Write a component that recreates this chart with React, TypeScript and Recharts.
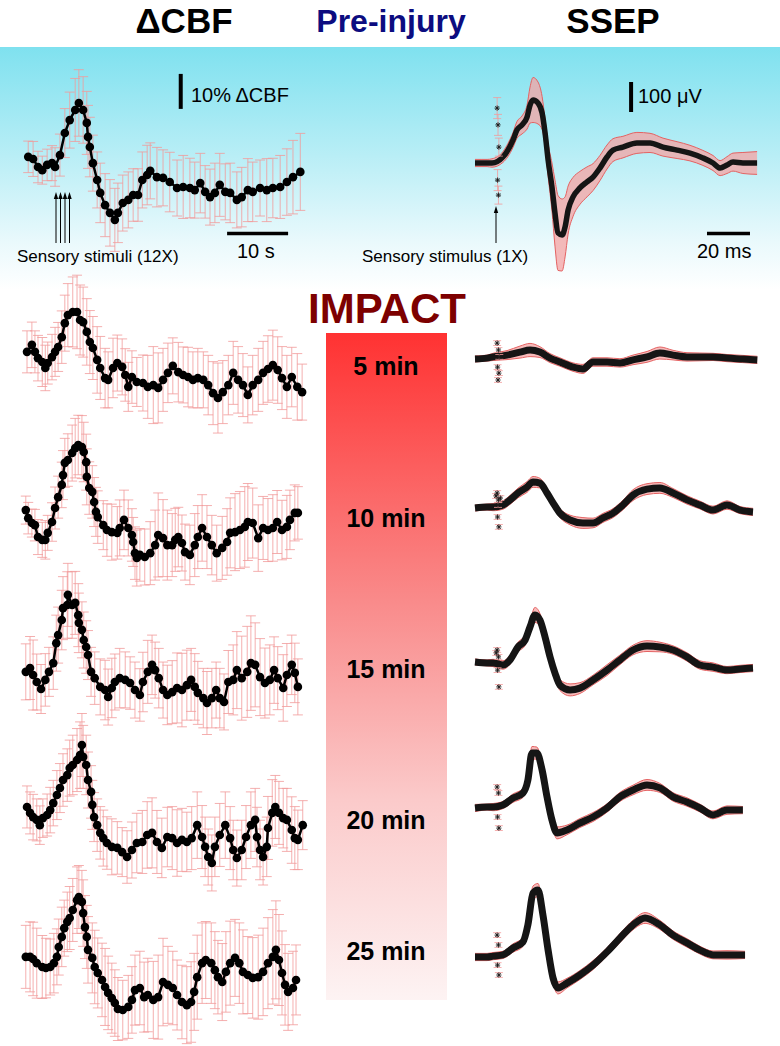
import React from 'react';
import { ScatterChart, ComposedChart, Scatter, Line, Area, XAxis, YAxis, ErrorBar, ReferenceLine } from 'recharts';

// [time (s), ΔCBF (%), s.e. (%)]
type Pt = [number, number, number];

const cbfPre: Pt[] = [
  [0.2, 0.9, 4.5], [1.0, 0.3, 5], [1.8, -2.0, 4.5], [2.5, -2.9, 4], [3.3, -1.4, 4.5], [4.1, -0.9, 5], [4.6, -2.0, 5.5], [5.4, 1.4, 6],
  [6.2, 7.7, 7], [7.0, 11.4, 8], [7.9, 14.3, 9], [8.5, 16.3, 9.5], [9.2, 14.3, 9.5], [9.8, 10.6, 9], [10.0, 6.6, 9], [10.3, 3.7, 8.5],
  [10.8, -0.9, 8], [11.5, -5.7, 8], [12.0, -9.4, 8.5], [12.8, -12.9, 9], [13.6, -15.1, 9.5], [14.4, -17.1, 9], [14.9, -15.1, 8.5],
  [15.7, -12.3, 8], [16.6, -11.4, 8], [17.4, -10.0, 7.5], [18.2, -10.0, 7.5], [18.9, -5.7, 8], [19.7, -4.3, 8.5], [20.2, -3.1, 8],
  [21.3, -4.9, 8.5], [22.3, -5.1, 8], [23.4, -6.3, 8.5], [24.6, -8.0, 8], [25.6, -7.7, 9], [26.7, -8.0, 8.5], [27.5, -8.6, 8],
  [28.4, -6.6, 8.5], [29.2, -9.1, 7.5], [30.0, -10.6, 8], [30.8, -9.4, 8.5], [31.6, -7.1, 9], [32.5, -9.1, 8], [33.3, -9.4, 8.5],
  [34.4, -11.4, 8], [35.2, -10.6, 8.5], [36.2, -8.6, 9], [37.0, -9.1, 8.5], [38.2, -8.0, 8], [39.3, -8.6, 9], [40.3, -8.0, 8.5],
  [41.5, -7.7, 9], [42.6, -6.3, 9.5], [43.6, -4.9, 10.5], [44.8, -3.4, 11],
];

const cbf5: Pt[] = [
  [0, 0.9, 6], [0.8, 2.9, 6.5], [1.3, 0.9, 6], [1.8, -0.9, 6.5], [2.5, -2.0, 7], [3.0, -3.7, 6.5], [3.4, -2.3, 6], [4.1, -0.6, 6.5],
  [4.6, 0.9, 7], [5.1, 2.3, 7], [5.7, 5.1, 7.5], [6.2, 9.1, 8], [6.7, 11.4, 9], [7.5, 12.3, 10], [8.2, 12.3, 10.5], [8.7, 10.0, 10],
  [9.2, 9.4, 10], [9.8, 6.6, 9.5], [10.3, 3.7, 9], [10.8, 2.0, 9], [11.5, -1.4, 9.5], [12.0, -3.7, 9], [12.8, -6.6, 8.5], [13.3, -7.1, 8],
  [14.1, -3.7, 8.5], [14.8, -2.3, 8], [15.6, -3.4, 8], [16.1, -5.7, 7.5], [16.6, -9.1, 7], [17.2, -6.3, 7.5], [18.0, -7.7, 7],
  [19.0, -8.0, 8], [19.8, -9.1, 9], [20.7, -8.6, 11], [21.5, -9.4, 10], [22.3, -7.1, 9], [23.1, -5.1, 8.5], [23.9, -3.1, 8],
  [24.8, -4.9, 8.5], [25.6, -5.7, 8], [26.4, -6.3, 8.5], [27.2, -7.1, 8], [28.0, -6.6, 8.5], [28.9, -7.1, 8], [29.7, -8.6, 8.5],
  [30.5, -10.9, 9], [31.3, -12.3, 10], [32.1, -10.6, 9], [33.0, -8.6, 8.5], [33.8, -5.1, 9], [34.6, -7.1, 9.5], [35.4, -8.6, 9],
  [36.2, -11.4, 8], [37.0, -8.6, 8.5], [37.9, -7.1, 9], [38.7, -5.1, 9], [39.5, -4.0, 9.5], [40.3, -2.9, 10], [41.1, -4.3, 9.5],
  [41.8, -6.6, 9], [42.6, -9.1, 9], [43.4, -6.3, 8.5], [44.3, -9.1, 9.5], [45.1, -10.6, 8],
];

const cbf10: Pt[] = [
  [-0.2, 1.4, 4], [0.2, -0.9, 4.5], [0.8, -2.3, 4], [1.3, -2.9, 4.5], [1.8, -6.3, 5], [2.5, -7.1, 5], [3.0, -7.1, 5.5], [3.4, -5.1, 5],
  [4.1, -2.0, 5.5], [4.6, 2.0, 6], [5.1, 5.1, 6], [5.7, 8.6, 6.5], [5.9, 11.4, 7], [6.2, 14.9, 7], [6.7, 15.7, 7.5], [7.4, 17.7, 8],
  [7.9, 19.1, 8.5], [8.4, 20.0, 8.5], [9.0, 19.4, 9], [9.3, 18.0, 8.5], [9.7, 15.1, 8], [9.8, 10.9, 8], [10.2, 7.7, 7.5], [10.7, 6.6, 7.5],
  [11.0, 3.7, 7], [11.3, 0.9, 7], [11.6, -0.6, 7.5], [12.5, -2.9, 7], [13.1, -4.3, 7.5], [13.9, -4.9, 8], [14.8, -5.1, 7.5],
  [15.2, -3.7, 8], [15.9, -1.4, 8.5], [16.6, -3.7, 8], [17.2, -5.7, 7.5], [17.4, -7.7, 7], [17.7, -10.9, 7.5], [18.0, -12.3, 8],
  [18.5, -11.4, 7.5], [19.3, -12.0, 8], [20.2, -10.9, 9], [21.0, -8.6, 10], [21.5, -5.7, 12], [22.3, -6.6, 11], [23.0, -8.6, 10],
  [23.8, -8.6, 9], [24.3, -7.1, 9], [24.8, -6.3, 8.5], [25.4, -8.0, 8], [25.9, -10.6, 8], [26.7, -11.4, 8.5], [27.5, -8.6, 9],
  [28.0, -6.3, 9], [28.7, -3.7, 9.5], [29.5, -6.3, 9], [30.3, -8.6, 8.5], [31.1, -10.9, 8], [32.0, -9.4, 9], [32.8, -7.7, 9.5],
  [33.3, -5.1, 10], [34.1, -4.9, 11], [34.9, -4.3, 11], [35.7, -3.4, 11.5], [36.2, -2.0, 11], [37.0, -2.3, 10], [37.9, -6.6, 9.5],
  [38.7, -3.7, 9], [39.5, -4.3, 9], [40.3, -3.7, 9.5], [41.0, -2.0, 9], [41.8, -4.3, 8.5], [42.6, -3.4, 9], [43.1, -1.4, 8.5],
  [43.9, 0.6, 8], [44.4, 0.6, 7.5],
];

const cbf15: Pt[] = [
  [-0.2, 0.9, 8], [0.5, 2.0, 9], [1.0, 0, 10], [1.6, -2.0, 8], [2.3, -4.0, 7], [3.0, -1.4, 7.5], [3.6, 0.9, 7], [4.3, 3.4, 7.5],
  [4.8, 9.1, 8], [5.1, 11.4, 8], [5.7, 15.7, 8.5], [5.9, 19.1, 9], [6.6, 20.0, 9.5], [6.7, 22.9, 9], [7.4, 20.0, 9.5], [7.9, 20.6, 9],
  [8.4, 17.1, 9], [8.5, 14.9, 8.5], [9.0, 12.9, 8], [9.3, 10.0, 8], [9.7, 8.0, 7.5], [10.0, 5.7, 7], [10.5, 0.9, 7], [11.1, -0.9, 7.5],
  [12.0, -3.4, 8], [12.8, -4.3, 8.5], [13.3, -6.3, 8], [13.9, -3.7, 8.5], [14.4, -2.0, 8], [15.2, -0.9, 8.5], [16.1, -1.4, 8],
  [16.9, -2.3, 7.5], [17.7, -4.3, 8], [18.5, -5.7, 7.5], [19.0, -2.0, 8.5], [19.8, 0.9, 9], [20.5, 2.9, 8.5], [21.0, 1.4, 8],
  [21.6, -0.9, 8.5], [22.3, -4.3, 8], [23.0, -5.7, 8.5], [23.8, -4.9, 9], [24.6, -3.7, 10], [25.4, -4.3, 10.5], [26.2, -2.9, 10],
  [26.9, -1.4, 9], [27.5, -3.4, 9.5], [28.0, -5.1, 9], [28.9, -6.6, 8.5], [29.5, -8.0, 9], [30.3, -6.6, 8.5], [31.0, -4.3, 8],
  [31.6, -6.6, 8.5], [32.3, -7.7, 8], [33.0, -2.0, 9], [33.8, -1.4, 10], [34.4, 1.4, 11], [35.2, -0.9, 12], [36.1, 0.9, 13],
  [36.7, 3.4, 13.5], [37.4, 2.9, 12], [38.2, -0.6, 11], [39.0, -2.3, 10], [39.8, -1.4, 10], [40.5, 1.4, 9.5], [41.1, -0.9, 9],
  [42.0, -3.7, 9.5], [42.6, 0, 9], [43.4, 2.9, 8.5], [43.9, 0.6, 8.5], [44.4, -3.4, 8],
];

const cbf20: Pt[] = [
  [0, 2.3, 6], [0.5, 0.6, 6], [1.0, -0.6, 6.5], [1.6, -1.4, 6], [2.1, -2.9, 5.5], [2.6, -0.9, 5.5], [3.3, 0, 6], [3.8, 1.4, 6.5],
  [4.3, 3.4, 6.5], [4.9, 5.7, 7], [5.4, 7.7, 7], [5.9, 10.0, 7.5], [6.6, 11.4, 7.5], [7.0, 13.4, 8], [7.5, 14.3, 8.5], [8.2, 15.7, 9],
  [8.7, 17.1, 9.5], [9.0, 20.0, 9], [9.2, 16.6, 9], [9.7, 14.3, 8.5], [10.0, 10.0, 8], [10.5, 6.6, 7.5], [10.7, 2.9, 7], [11.0, -0.6, 7],
  [11.5, -2.9, 7.5], [12.0, -5.1, 7.5], [12.5, -6.6, 8], [13.1, -8.0, 7.5], [13.9, -9.1, 8], [14.8, -9.4, 7.5], [15.6, -10.6, 7],
  [16.4, -12.0, 7.5], [17.2, -10.0, 8], [18.0, -8.0, 8.5], [18.9, -7.7, 9], [19.7, -5.7, 9.5], [20.5, -5.1, 10], [21.3, -7.7, 9],
  [22.1, -9.4, 8.5], [23.0, -6.3, 8.5], [23.8, -6.6, 9], [24.6, -8.0, 9.5], [25.4, -7.1, 9], [26.2, -7.7, 8.5], [27.0, -6.6, 9],
  [27.9, -2.9, 9.5], [28.7, -6.3, 9], [29.2, -9.1, 8.5], [29.7, -12.0, 8], [30.3, -13.7, 8], [30.8, -9.1, 8.5], [31.6, -5.7, 9],
  [32.5, -2.9, 9.5], [33.3, -6.6, 9], [33.8, -10.0, 8.5], [34.4, -12.3, 8], [35.2, -10.0, 8.5], [35.9, -6.3, 9], [36.7, -2.9, 9.5],
  [37.4, -1.4, 9], [37.7, -6.3, 8.5], [38.2, -10.0, 8.5], [38.7, -12.0, 8], [39.3, -9.1, 8.5], [39.5, -3.7, 9], [40.2, 0.6, 9.5],
  [40.7, 2.3, 9], [41.3, 0.6, 9], [42.0, -0.9, 8.5], [42.6, -1.4, 9], [43.4, -4.3, 9.5], [43.9, -6.6, 9], [44.4, -7.1, 8.5],
  [45.2, -2.9, 7],
];

const cbf25: Pt[] = [
  [-0.2, 0.9, 9], [0.5, 0.9, 10], [1.0, 0.3, 10.5], [1.6, -0.9, 10], [2.5, -2.0, 9], [3.1, -2.3, 8.5], [3.8, -2.0, 8], [4.4, -0.9, 8.5],
  [4.9, 0.9, 8], [5.2, 3.7, 8], [5.7, 6.6, 8.5], [6.1, 9.1, 8], [6.6, 10.9, 8.5], [7.0, 12.0, 9], [7.5, 14.3, 9], [8.2, 17.1, 9.5],
  [8.5, 18.0, 9], [9.0, 16.6, 9], [9.2, 13.4, 9.5], [9.5, 9.4, 9], [9.8, 6.6, 9], [10.0, 2.9, 9.5], [10.7, 0.6, 10], [11.1, -2.0, 10.5],
  [11.6, -3.7, 10], [12.3, -5.7, 10.5], [12.8, -7.7, 11], [13.3, -9.4, 10.5], [13.9, -10.9, 10], [14.4, -12.3, 9.5], [14.9, -14.0, 9],
  [15.7, -14.3, 8.5], [16.6, -13.4, 9], [17.2, -11.4, 9.5], [17.7, -8.6, 10], [18.5, -8.0, 10.5], [19.2, -10.6, 10], [19.8, -10.0, 10.5],
  [20.7, -11.4, 11], [21.5, -10.6, 12], [22.3, -6.3, 12.5], [23.1, -7.1, 11], [23.9, -8.0, 10.5], [24.6, -10.0, 10], [25.4, -12.0, 10.5],
  [26.2, -12.9, 11], [26.9, -12.0, 11.5], [27.4, -9.1, 11], [27.9, -4.9, 12], [28.7, -0.9, 11.5], [29.3, 0, 11], [30.2, -0.9, 11.5],
  [30.8, -2.9, 11], [31.3, -4.9, 10.5], [32.0, -6.3, 11], [32.6, -3.4, 11.5], [33.3, -0.9, 12], [34.1, 0.6, 11], [34.8, -0.9, 11.5],
  [35.4, -3.4, 12], [36.2, -4.3, 11], [37.0, -5.1, 11.5], [37.9, -4.9, 12], [38.7, -3.4, 12.5], [39.5, -0.9, 13], [40.3, 0.9, 13.5],
  [40.8, 2.9, 14], [41.3, 0, 13], [41.8, -3.7, 12], [42.3, -7.1, 11.5], [42.8, -9.1, 11], [43.6, -8.0, 10.5], [44.1, -5.7, 10],
];

// SSEP: [time after stimulus (ms), amplitude (µV), s.e. (µV)]
const ssepPre: Pt[] = [
  [-9.3, 0, 12], [-6.5, 0, 12], [-3.7, 0, 12], [-1.4, 0, 14], [3.7, 20, 18], [6.0, 43, 22], [8.4, 77, 25], [10.2, 110, 28],
  [12.6, 127, 30], [14.9, 153, 40], [16.3, 193, 60], [17.7, 210, 75], [20.0, 200, 70], [21.9, 167, 55], [23.3, 100, 45],
  [24.7, 10, 55], [26.5, -80, 80], [27.9, -167, 110], [29.3, -233, 125], [31.2, -240, 120], [32.6, -213, 100], [34.0, -157, 80],
  [36.3, -113, 65], [39.5, -83, 55], [42.8, -63, 50], [45.6, -47, 45], [48.8, -17, 42], [52.1, 20, 40], [54.9, 43, 38],
  [59.5, 53, 36], [66.0, 67, 35], [72.1, 67, 32], [78.1, 53, 30], [84.7, 43, 28], [90.7, 33, 26], [96.7, 17, 25], [101.4, 0, 25],
  [104.7, -17, 25], [107.9, -7, 28], [110.7, 3, 30], [115.3, 0, 35], [121.9, 0, 38],
];
const artPre: Pt[] = [[1.0, 183, 35], [1.4, 127, 35], [1.8, 53, 30], [1.2, -57, 35], [1.6, -107, 30]];

const ssep5: Pt[] = [
  [-9.3, 0, 10], [-3.7, 3, 10], [-0.9, 7, 12], [5.6, 13, 15], [11.6, 23, 20], [16.3, 30, 22], [20.9, 23, 18], [25.6, 3, 15],
  [30.2, -10, 14], [36.3, -27, 14], [40.9, -33, 15], [45.6, -10, 14], [52.1, -10, 14], [58.1, -13, 14], [64.2, -3, 16],
  [70.7, 7, 18], [76.7, 20, 20], [82.8, 13, 16], [89.3, 7, 14], [95.3, 7, 13], [101.4, 7, 12], [107.9, 3, 12], [115.3, 0, 12],
  [122.0, -3, 12],
];
const art5: Pt[] = [[1.0, 53, 8], [1.6, 30, 8], [2.0, 7, 8], [1.2, -27, 8], [1.8, -47, 8], [1.4, -70, 8]];

const ssep10: Pt[] = [
  [-9.3, 0, 10], [-3.7, 3, 10], [-0.9, 3, 12], [3.7, 10, 14], [7.0, 27, 15], [10.7, 50, 16], [14.9, 70, 18], [17.7, 87, 18],
  [20.9, 83, 16], [24.2, 50, 15], [27.0, 17, 14], [30.2, -17, 15], [34.9, -40, 16], [40.9, -50, 18], [45.6, -50, 16],
  [50.2, -33, 15], [54.9, -17, 15], [59.5, 10, 16], [64.2, 43, 18], [70.7, 63, 18], [76.7, 67, 18], [82.8, 50, 15],
  [89.3, 27, 14], [95.3, 10, 13], [101.4, -7, 13], [107.9, 10, 14], [114.0, -7, 12], [120.0, -13, 12],
];
const art10: Pt[] = [[0.5, 40, 8], [1.0, 50, 8], [1.6, 27, 8], [2.5, 33, 8], [1.4, 10, 8], [1.2, -30, 8], [1.8, -63, 8]];

const ssep15: Pt[] = [
  [-9.3, 0, 10], [-3.7, -3, 10], [-0.9, -3, 12], [3.7, -10, 14], [7.0, 7, 15], [10.7, 50, 16], [14.0, 73, 18], [16.3, 117, 20],
  [18.6, 157, 25], [20.9, 140, 22], [23.3, 83, 18], [25.6, 17, 16], [27.9, -37, 16], [30.2, -77, 18], [34.9, -93, 20],
  [39.5, -87, 18], [45.6, -60, 16], [52.1, -27, 18], [58.1, 7, 16], [64.2, 40, 16], [70.7, 53, 18], [76.7, 50, 16],
  [82.8, 40, 14], [89.3, 17, 14], [95.3, -10, 14], [101.4, -17, 14], [107.9, -27, 12], [114.0, -23, 12], [120.0, -20, 12],
];
const art15: Pt[] = [[0.6, 30, 8], [1.0, 40, 8], [1.6, 17, 8], [1.2, -27, 8], [1.8, -83, 8]];

const ssep20: Pt[] = [
  [-9.3, 0, 12], [-3.7, 3, 10], [-0.9, 3, 12], [3.7, 10, 12], [8.4, 33, 14], [13.0, 50, 15], [15.3, 93, 18], [17.2, 183, 22],
  [19.5, 183, 20], [21.9, 127, 16], [24.2, 37, 15], [26.5, -40, 16], [28.8, -83, 20], [33.5, -73, 16], [39.5, -50, 15],
  [45.6, -30, 15], [52.1, 0, 14], [58.1, 37, 15], [64.2, 60, 16], [70.7, 77, 18], [76.7, 67, 15], [82.8, 37, 14],
  [89.3, 20, 14], [95.3, 0, 13], [101.4, -23, 13], [107.9, -7, 14], [115.3, -7, 12],
];
const art20: Pt[] = [[1.0, 70, 8], [1.6, 50, 8], [1.2, -30, 8], [1.8, -67, 8]];

const ssep25: Pt[] = [
  [-9.3, 0, 12], [-3.7, 0, 12], [-0.9, 3, 12], [3.7, 7, 12], [8.4, 30, 14], [13.0, 50, 15], [15.3, 107, 18], [17.7, 213, 24],
  [20.0, 223, 22], [22.3, 140, 18], [24.7, 23, 16], [27.0, -70, 18], [29.3, -103, 20], [33.5, -87, 16], [39.5, -60, 15],
  [45.6, -27, 15], [52.1, 17, 14], [58.1, 63, 15], [64.2, 107, 16], [69.8, 130, 18], [76.7, 107, 15], [82.8, 73, 14],
  [89.3, 47, 14], [95.3, 23, 13], [101.4, 7, 13], [107.9, 7, 14], [116.3, 7, 12],
];
const art25: Pt[] = [[1.0, 73, 8], [1.6, 40, 8], [1.2, -27, 8], [1.8, -60, 8]];

const minuteLabels = ['5 min', '10 min', '15 min', '20 min', '25 min'];
const minuteBaselines = [375, 527, 678, 829, 960];

const FONT = '"Liberation Sans", Arial, Helvetica, sans-serif';
const PINK = '#f19a9a';

const rows = (pts: Pt[]) => pts.map(([t, v, e]) => ({ t, v, e }));
const bands = (pts: Pt[]) => pts.map(([t, v, e]) => ({ t, v, band: [v - e, v + e] }));

const Bead = (p: any) => <circle cx={p.cx} cy={p.cy} r={4.3} fill="#000" />;
const Star = (p: any) => (
  <g stroke="#1a1a1a" strokeWidth={0.9}>
    <line x1={p.cx - 2.6} y1={p.cy} x2={p.cx + 2.6} y2={p.cy} />
    <line x1={p.cx} y1={p.cy - 2.6} x2={p.cx} y2={p.cy + 2.6} />
    <line x1={p.cx - 1.9} y1={p.cy - 1.9} x2={p.cx + 1.9} y2={p.cy + 1.9} />
    <line x1={p.cx - 1.9} y1={p.cy + 1.9} x2={p.cx + 1.9} y2={p.cy - 1.9} />
  </g>
);

const CbfChart: React.FC<{ data: Pt[]; top: number; bars?: boolean }> = ({ data, top, bars }) => (
  <div style={{ position: 'absolute', left: 12, top }}>
    <ScatterChart width={303} height={280} margin={{ top: 0, right: 5, bottom: 0, left: 5 }}>
      <XAxis type="number" dataKey="t" domain={[-1.64, 46.39]} allowDataOverflow hide />
      <YAxis type="number" domain={[-40, 40]} allowDataOverflow hide />
      <Scatter
        data={rows(data)}
        dataKey="v"
        shape={Bead}
        line={{ stroke: '#000', strokeWidth: 2.5 }}
        lineType="joint"
        isAnimationActive={false}
      >
        <ErrorBar dataKey="e" direction="y" width={5} stroke={PINK} strokeWidth={0.8} isAnimationActive={false} />
      </Scatter>
      {bars && (
        <ReferenceLine segment={[{ x: 25.2, y: 14.6 }, { x: 25.2, y: 24.6 }]} stroke="#000" strokeWidth={4} ifOverflow="visible" />
      )}
      {bars && (
        <ReferenceLine segment={[{ x: 32.8, y: -21 }, { x: 42.8, y: -21 }]} stroke="#000" strokeWidth={3.5} ifOverflow="visible" />
      )}
    </ScatterChart>
  </div>
);

const SsepChart: React.FC<{ data: Pt[]; art: Pt[]; top: number; bars?: boolean }> = ({ data, art, top, bars }) => (
  <div style={{ position: 'absolute', left: 460, top }}>
    <ComposedChart width={310} height={260} data={bands(data)} margin={{ top: 0, right: 5, bottom: 0, left: 5 }}>
      <XAxis type="number" dataKey="t" domain={[-13.95, 125.58]} allowDataOverflow hide />
      <YAxis type="number" domain={[-433.3, 433.3]} allowDataOverflow hide />
      <Area type="monotone" dataKey="band" stroke="#e46262" strokeWidth={1} fill="#f5a3a3" fillOpacity={0.75} isAnimationActive={false} />
      <Line type="monotone" dataKey="v" stroke="#151515" strokeWidth={bars ? 5.5 : 7} dot={false} activeDot={false} isAnimationActive={false} />
      <Scatter data={rows(art)} dataKey="v" shape={Star} isAnimationActive={false}>
        <ErrorBar dataKey="e" direction="y" width={4} stroke={PINK} strokeWidth={0.8} isAnimationActive={false} />
      </Scatter>
      {bars && (
        <ReferenceLine segment={[{ x: 63.3, y: 170 }, { x: 63.3, y: 270 }]} stroke="#000" strokeWidth={4} ifOverflow="visible" />
      )}
      {bars && (
        <ReferenceLine segment={[{ x: 98.6, y: -235 }, { x: 118.6, y: -235 }]} stroke="#000" strokeWidth={3.5} ifOverflow="visible" />
      )}
    </ComposedChart>
  </div>
);

const Arrow: React.FC<{ x: number; y1: number; y2: number }> = ({ x, y1, y2 }) => (
  <g>
    <line x1={x} y1={y1} x2={x} y2={y2 + 5} stroke="#000" strokeWidth={1} />
    <polygon points={`${x},${y2} ${x - 2.2},${y2 + 7} ${x + 2.2},${y2 + 7}`} fill="#000" />
  </g>
);

const App: React.FC = () => {
  const cbfRows = [
    { data: cbf5, top: 215 },
    { data: cbf10, top: 375 },
    { data: cbf15, top: 535 },
    { data: cbf20, top: 675 },
    { data: cbf25, top: 820 },
  ];
  const ssepRows = [
    { data: ssep5, art: art5, top: 229 },
    { data: ssep10, art: art10, top: 378 },
    { data: ssep15, art: art15, top: 532 },
    { data: ssep20, art: art20, top: 678 },
    { data: ssep25, art: art25, top: 827 },
  ];

  return (
    <div style={{ position: 'absolute', left: 0, top: 0, width: 780, height: 1046, overflow: 'hidden', background: '#fff', fontFamily: FONT }}>
      <div style={{ position: 'absolute', left: 0, top: 47, width: 780, height: 243, background: 'linear-gradient(to bottom, #7fe1ef 0%, #b9eef6 45%, #e9f9fc 80%, #ffffff 100%)' }} />
      <div style={{ position: 'absolute', left: 326, top: 333, width: 121, height: 667, background: 'linear-gradient(to bottom, #ff3232 0%, #f98a8a 40%, #fbcaca 70%, #fdf3f3 100%)' }} />

      <CbfChart data={cbfPre} top={20} bars />
      {cbfRows.map((r, i) => (
        <CbfChart key={i} data={r.data} top={r.top} />
      ))}
      <SsepChart data={ssepPre} art={artPre} top={33} bars />
      {ssepRows.map((r, i) => (
        <SsepChart key={i} data={r.data} art={r.art} top={r.top} />
      ))}

      <svg width={780} height={1046} style={{ position: 'absolute', left: 0, top: 0, pointerEvents: 'none' }} fontFamily={FONT}>
        <text x={184} y={33} textAnchor="middle" fontSize={35} fontWeight="bold" fill="#000">ΔCBF</text>
        <text x={391} y={32} textAnchor="middle" fontSize={32} fontWeight="bold" fill="#0c0c80">Pre-injury</text>
        <text x={613} y={33} textAnchor="middle" fontSize={35} fontWeight="bold" fill="#000">SSEP</text>

        <text x={191} y={102} fontSize={20} fill="#000">10% ΔCBF</text>
        <text x={237} y={258} fontSize={20} fill="#000">10 s</text>
        <text x={17} y={262} fontSize={17} fill="#000">Sensory stimuli (12X)</text>
        <Arrow x={56} y1={243} y2={192} />
        <Arrow x={60.5} y1={243} y2={192} />
        <Arrow x={65} y1={243} y2={192} />
        <Arrow x={69.5} y1={243} y2={192} />

        <text x={638} y={103} fontSize={20} fill="#000">100 μV</text>
        <text x={697} y={258} fontSize={20} fill="#000">20 ms</text>
        <text x={362} y={262} fontSize={17} fill="#000">Sensory stimulus (1X)</text>
        <Arrow x={496} y1={243} y2={206} />

        <text x={387} y={323} textAnchor="middle" fontSize={42} fontWeight="bold" fill="#7d0000">IMPACT</text>
        {minuteLabels.map((m, i) => (
          <text key={m} x={386} y={minuteBaselines[i]} textAnchor="middle" fontSize={25} fontWeight="bold" fill="#000">{m}</text>
        ))}
      </svg>
    </div>
  );
};

export default App;
